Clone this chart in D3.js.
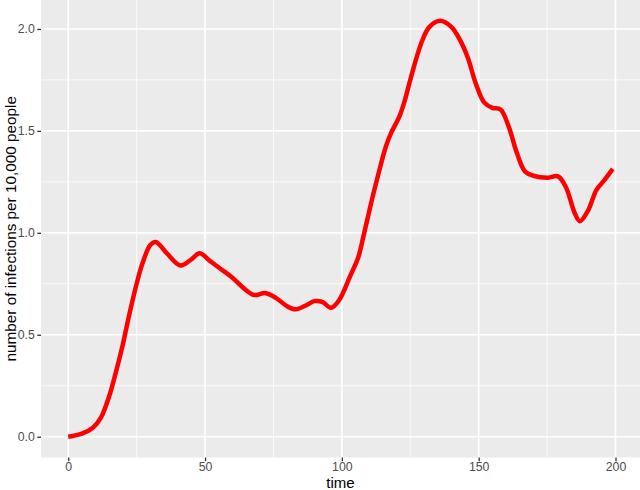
<!DOCTYPE html>
<html><head><meta charset="utf-8">
<script src="https://cdn.jsdelivr.net/npm/d3@7"></script>
<style>body{margin:0;background:#fff}svg{display:block}</style>
</head><body>
<svg id="c" width="640" height="490"></svg>
<script>
const times = [0,5,9,12,15,17,20,22,25,27,30,32,36,41,45,48,52,56,60,64,68,72,76,80,83,87,90,93,96,99,103,106,108,111,113,116,118,121,123,125,129,132,136,140,143,146,149,152,155,158,161,164,167,170,175,179,182,185,187,190,193,196,199];
const infections = [0.0,0.015,0.044,0.095,0.2,0.295,0.455,0.58,0.75,0.845,0.94,0.955,0.90,0.84,0.87,0.90,0.86,0.82,0.78,0.73,0.695,0.705,0.68,0.64,0.625,0.645,0.665,0.66,0.632,0.67,0.787,0.88,0.99,1.163,1.27,1.42,1.49,1.57,1.65,1.75,1.93,2.01,2.04,2.01,1.95,1.86,1.73,1.64,1.613,1.605,1.52,1.39,1.30,1.28,1.27,1.277,1.22,1.10,1.057,1.11,1.21,1.26,1.314];
const xTicks = [0,50,100,150,200];
const yTicks = [0.0,0.5,1.0,1.5,2.0];
const xMinor = [25,75,125,175];
const yMinor = [0.25,0.75,1.25,1.75];
const xLabel = "time";
const yLabel = "number of infections per 10,000 people";

const svg = d3.select("#c");
const P = {l:41, r:640, t:0, b:457.5};
const xr = [0,199], yr=[0, d3.max(infections)];
const xpad = (xr[1]-xr[0])*0.05, ypad=(yr[1]-yr[0])*0.05;
const x = d3.scaleLinear().domain([xr[0]-xpad, xr[1]+xpad]).range([P.l,P.r]);
const y = d3.scaleLinear().domain([yr[0]-ypad, yr[1]+ypad]).range([P.b,P.t]);

svg.append("rect").attr("x",P.l).attr("y",P.t).attr("width",P.r-P.l).attr("height",P.b-P.t).attr("fill","#EBEBEB");
const g = svg.append("g");
g.selectAll(".xm").data(xMinor).join("line").attr("x1",d=>x(d)).attr("x2",d=>x(d)).attr("y1",P.t).attr("y2",P.b).attr("stroke","#fff").attr("stroke-width",0.8);
g.selectAll(".ym").data(yMinor).join("line").attr("y1",d=>y(d)).attr("y2",d=>y(d)).attr("x1",P.l).attr("x2",P.r).attr("stroke","#fff").attr("stroke-width",0.8);
g.selectAll(".xM").data(xTicks).join("line").attr("x1",d=>x(d)).attr("x2",d=>x(d)).attr("y1",P.t).attr("y2",P.b).attr("stroke","#fff").attr("stroke-width",1.6);
g.selectAll(".yM").data(yTicks).join("line").attr("y1",d=>y(d)).attr("y2",d=>y(d)).attr("x1",P.l).attr("x2",P.r).attr("stroke","#fff").attr("stroke-width",1.6);

const xAxis = d3.axisBottom(x).tickValues(xTicks).tickFormat(d3.format("d")).tickSize(3.7).tickPadding(1.2);
const yAxis = d3.axisLeft(y).tickValues(yTicks).tickFormat(d3.format(".1f")).tickSize(3.7).tickPadding(2.5);
const ga = svg.append("g").attr("transform",`translate(0,${P.b})`).call(xAxis);
const gy = svg.append("g").attr("transform",`translate(${P.l},0)`).call(yAxis);
[ga,gy].forEach(a=>{
  a.select(".domain").remove();
  a.selectAll(".tick line").attr("stroke","#333333").attr("stroke-width",1.3);
  a.selectAll(".tick text").attr("fill","#4D4D4D").style("font-family","Liberation Sans, Arial, sans-serif").style("font-size","12.3px");
});

const data = times.map((t,i)=>({t, v:infections[i]}));
const line = d3.line().x(d=>x(d.t)).y(d=>y(d.v)).curve(d3.curveCatmullRom.alpha(0.5));
svg.append("path").datum(data).attr("d",line).attr("fill","none").attr("stroke","#FF0000").attr("stroke-width",4.5).attr("stroke-linejoin","round").attr("stroke-linecap","butt");

svg.append("text").attr("x",(P.l+P.r)/2).attr("y",487.5).attr("text-anchor","middle").style("font-family","Liberation Sans, Arial, sans-serif").style("font-size","15px").attr("fill","#000").text(xLabel);
svg.append("text").attr("transform",`translate(15.5,${(P.t+P.b)/2}) rotate(-90)`).attr("text-anchor","middle").style("font-family","Liberation Sans, Arial, sans-serif").style("font-size","15.3px").attr("fill","#000").text(yLabel);
</script>
</body></html>
